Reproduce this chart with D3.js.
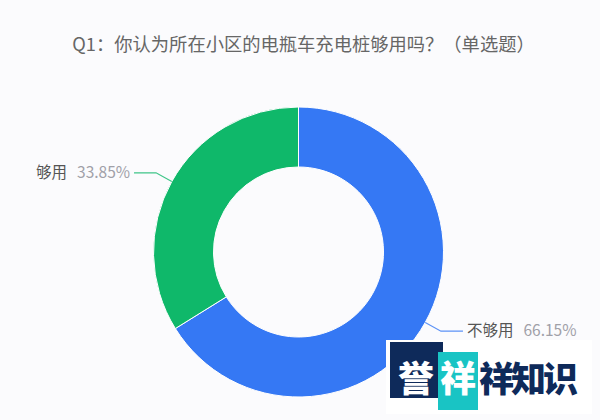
<!DOCTYPE html>
<html>
<head>
<meta charset="utf-8">
<script src="https://cdn.jsdelivr.net/npm/d3@7"></script>
<style>
  html, body { margin: 0; padding: 0; background: #fbfbfd; }
  svg { display: block; }
  text { font-family: "Noto Sans CJK SC", "Noto Sans", sans-serif; }
</style>
</head>
<body>
<svg id="chart" width="600" height="420"></svg>
<script>
const title = "Q1：你认为所在小区的电瓶车充电桩够用吗？（单选题）";
const categories = ["不够用", "够用"];
const values = [66.15, 33.85];
const colors = ["#3578f4", "#0fb86a"];
const valueLabels = ["66.15%", "33.85%"];

const W = 600, H = 420;
const cx = 298.5, cy = 252, rOuter = 145, rInner = 85, rElbow = 163, hLen = 22;

const svg = d3.select("#chart");
svg.append("rect").attr("width", W).attr("height", H).attr("fill", "#fbfbfd");

svg.append("text")
  .attr("x", 303.5).attr("y", 51)
  .attr("text-anchor", "middle")
  .attr("font-size", 18.3)
  .attr("fill", "#666")
  .text(title);

const data = categories.map((c, i) => ({ name: c, value: values[i], label: valueLabels[i], color: colors[i] }));
const pie = d3.pie().sort(null).value(d => d.value).startAngle(0).endAngle(2 * Math.PI);
const arcs = pie(data);
const arc = d3.arc().innerRadius(rInner).outerRadius(rOuter);

const g = svg.append("g").attr("transform", `translate(${cx},${cy})`);
g.selectAll("path.slice").data(arcs).join("path")
  .attr("class", "slice")
  .attr("d", arc)
  .attr("fill", d => d.data.color)
  .attr("stroke", "#ffffff")
  .attr("stroke-width", 1);

arcs.forEach(d => {
  const mid = (d.startAngle + d.endAngle) / 2;
  const sx = Math.sin(mid), sy = -Math.cos(mid);
  const p0 = [rOuter * sx, rOuter * sy];
  const p1 = [rElbow * sx, rElbow * sy];
  const right = sx > 0;
  const p2 = [p1[0] + (right ? hLen : -hLen), p1[1]];
  g.append("polyline")
    .attr("points", [p0, p1, p2].map(p => p.join(",")).join(" "))
    .attr("fill", "none")
    .attr("stroke", d.data.color)
    .attr("stroke-opacity", 0.8)
    .attr("stroke-width", 1.2);
  const t = g.append("text")
    .attr("x", p2[0] + (right ? 4 : -4))
    .attr("y", p2[1] + 5)
    .attr("text-anchor", right ? "start" : "end")
    .attr("font-size", 15.5);
  t.append("tspan").attr("fill", "#555").text(d.data.name);
  t.append("tspan").attr("fill", "#a0a0a8").attr("dx", 10).text(d.data.label);
});

// watermark
const wm = svg.append("g");
wm.append("rect").attr("x", 386).attr("y", 340).attr("width", 206).attr("height", 74).attr("fill", "#ffffff");
wm.append("rect").attr("x", 390).attr("y", 342).attr("width", 53).attr("height", 56).attr("fill", "#0e2a5a");
wm.append("rect").attr("x", 438).attr("y", 352).attr("width", 40).attr("height", 58).attr("fill", "#19c4c4");
wm.append("text").attr("x", 416).attr("y", 392).attr("text-anchor", "middle")
  .attr("font-size", 36).attr("font-weight", 900).attr("fill", "#ffffff").text("誉");
wm.append("text").attr("x", 458).attr("y", 392).attr("text-anchor", "middle")
  .attr("font-size", 36).attr("font-weight", 900).attr("fill", "#ffffff").text("祥");
wm.append("text").attr("x", 479).attr("y", 392)
  .attr("font-size", 35).attr("font-weight", 900).attr("fill", "#0e2a5a")
  .attr("textLength", 99).text("祥知识");
</script>
</body>
</html>
